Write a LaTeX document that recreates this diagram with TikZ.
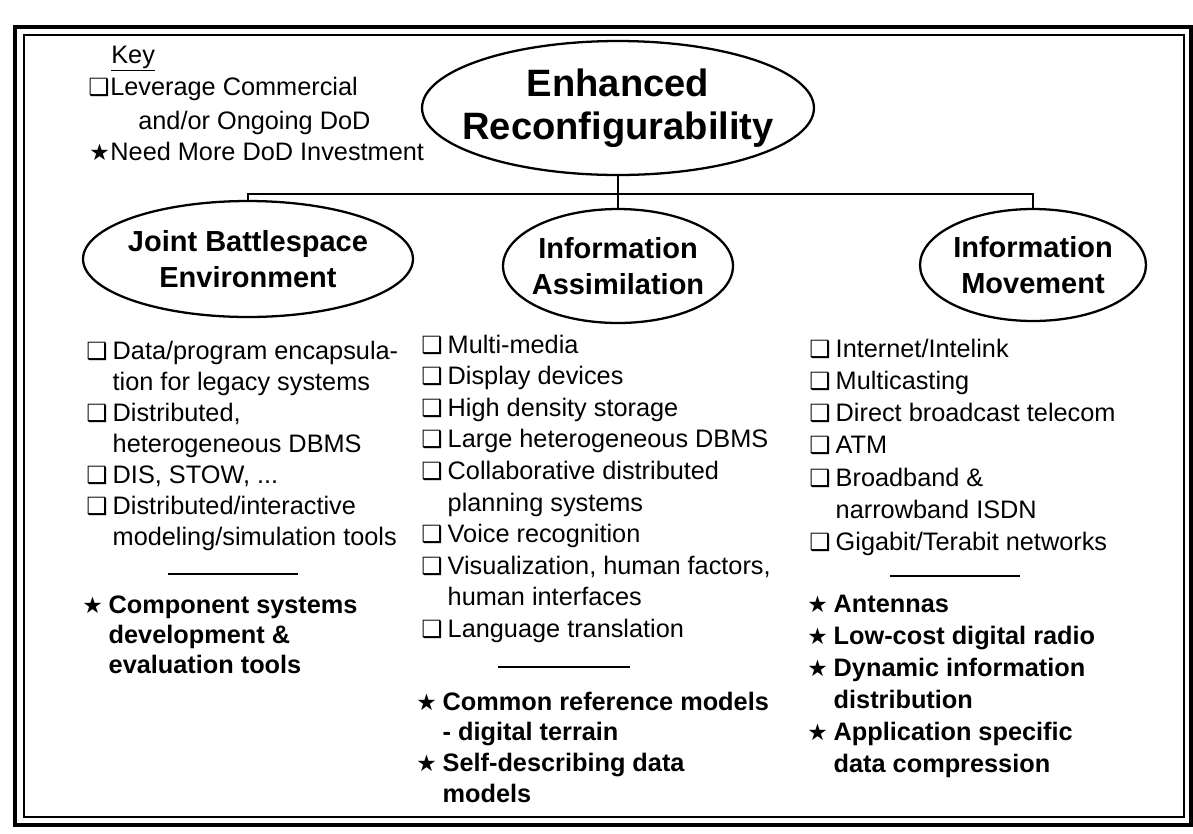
\documentclass[tikz,border=0pt]{standalone}
\usepackage{fontspec}
\setmainfont{Liberation Sans}
\newfontfamily\symfont{DejaVu Sans}
\usetikzlibrary{shapes.geometric}

\newcommand{\bx}[1][15pt]{\makebox[#1][l]{\symfont\fontsize{13.5}{13.5}\selectfont ❑}}
\newcommand{\st}[1][15pt]{\makebox[#1][l]{\symfont\fontsize{13}{13}\selectfont ★}}
\newcommand{\ind}{\hspace*{15pt}}
\newcommand{\threedots}{...}

\tikzset{
    bubble/.style={draw, ellipse, line width=1.3pt, inner sep=0pt},
    bubbletext/.style={font=\fontsize{16.5}{20.5}\selectfont\bfseries, align=center},
    item/.style={anchor=base west, inner sep=0pt, font=\fontsize{14.4}{17}\selectfont},
    bolditem/.style={item, font=\fontsize{14.4}{17}\selectfont\bfseries},
    link/.style={line width=1.1pt},
    rule/.style={line width=1.2pt}
}

\begin{document}
\begin{tikzpicture}[x=0.02cm, y=-0.02cm]
        \useasboundingbox (0,0) rectangle (1193,833);
        % frame
        \draw[line width=2pt]   (15,27) rectangle (1191,825);
        \draw[line width=1.1pt] (24,35) rectangle (1184,817);

        % key
        \node[item] (keyhead) at (111,63)  {\underline{Key}};
        \node[item] (keylev)  at (88,95)   {\bx[12.5pt]Leverage Commercial};
        \node[item] (keyand)  at (138,129) {and/or Ongoing DoD};
        \node[item] (keyneed) at (89,160)  {\st[12pt]Need More DoD Investment};

        % ellipses
        \node[bubble, minimum width=7.84cm, minimum height=2.68cm,
              label={[font=\fontsize{21.7}{24.4}\selectfont\bfseries, align=center]center:Enhanced\\Reconfigurability}]
              (top) at (618,108) {};
        \node[bubble, minimum width=6.6cm, minimum height=2.32cm,
              label={[bubbletext]center:Joint Battlespace\\Environment}] (jbe) at (248,259) {};
        \node[bubble, minimum width=4.6cm, minimum height=2.28cm,
              label={[bubbletext]center:Information\\Assimilation}] (ia) at (618,266) {};
        \node[bubble, minimum width=4.52cm, minimum height=2.24cm,
              label={[bubbletext]center:Information\\Movement}] (im) at (1033,265) {};

        \coordinate (bus) at (618,194);
        \draw[link] (top) -- (ia);
        \draw[link] (jbe.north) |- (bus) -| (im.north);

        % Joint Battlespace Environment
        \foreach \txt [count=\i from 0] in {
            {\bx Data/program encapsula-}, {\ind tion for legacy systems},
            {\bx Distributed,}, {\ind heterogeneous DBMS},
            {\bx DIS, STOW, \threedots}, {\bx Distributed/interactive},
            {\ind modeling/simulation tools}}
        {
            \node[item] (jbe\i) at (86,{359+31*\i}) {\txt};
        }
        \draw[rule] (168,574) -- (298,574);
        \foreach \txt [count=\i from 0] in {
            {\st Component systems}, {\ind development \&}, {\ind evaluation tools}}
        {
            \node[bolditem] (jbestar\i) at (82,{613+30*\i}) {\txt};
        }

        % Information Assimilation
        \foreach \txt [count=\i from 0] in {
            {\bx Multi-media}, {\bx Display devices}, {\bx High density storage},
            {\bx Large heterogeneous DBMS}, {\bx Collaborative distributed},
            {\ind planning systems}, {\bx Voice recognition},
            {\bx Visualization, human factors,}, {\ind human interfaces},
            {\bx Language translation}}
        {
            \node[item] (ia\i) at (421,{353+31.6*\i}) {\txt};
        }
        \draw[rule] (498,667) -- (630,667);
        \foreach \txt [count=\i from 0] in {
            {\st Common reference models}, {\ind - digital terrain},
            {\st Self-describing data}, {\ind models}}
        {
            \node[bolditem] (iastar\i) at (416,{710+30.7*\i}) {\txt};
        }

        % Information Movement
        \foreach \txt [count=\i from 0] in {
            {\bx Internet/Intelink}, {\bx Multicasting}, {\bx Direct broadcast telecom},
            {\bx ATM}, {\bx Broadband \&}, {\ind narrowband ISDN},
            {\bx Gigabit/Terabit networks}}
        {
            \node[item] (im\i) at (809,{357+32.3*\i}) {\txt};
        }
        \draw[rule] (890,576) -- (1020,576);
        \foreach \txt [count=\i from 0] in {
            {\st Antennas}, {\st Low-cost digital radio}, {\st Dynamic information},
            {\ind distribution}, {\st Application specific}, {\ind data compression}}
        {
            \node[bolditem] (imstar\i) at (807,{612+32.1*\i}) {\txt};
        }
    \end{tikzpicture}
\end{document}
